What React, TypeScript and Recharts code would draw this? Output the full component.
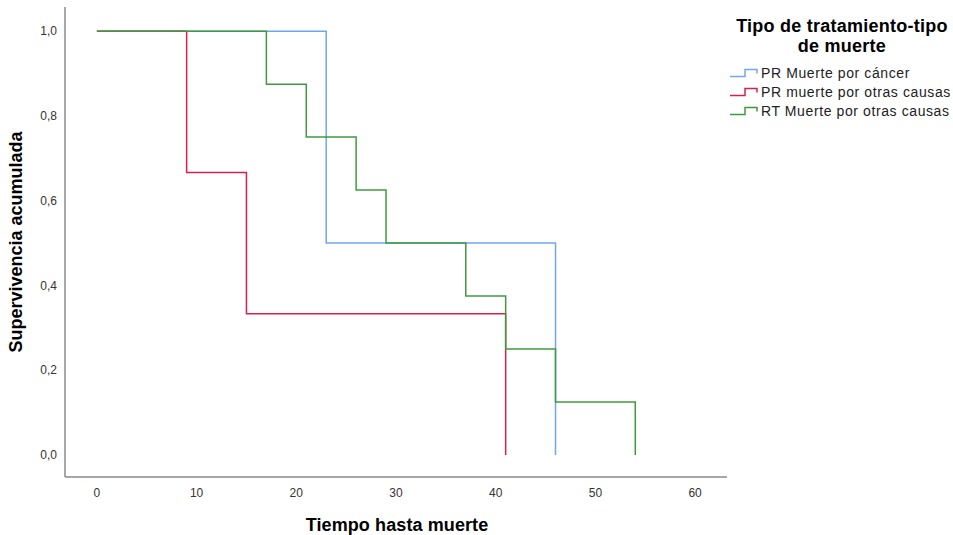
import { LineChart, Line, XAxis, YAxis } from "recharts";

// tiempos y supervivencia acumulada (Kaplan-Meier)
const seriesNames = [
  "PR Muerte por cáncer",
  "PR muerte por otras causas",
  "RT Muerte por otras causas",
];
const seriesColors = ["#6fa6ee", "#d6204e", "#3f9a3f"];

const prCancerTimes = [0, 23, 46];
const prCancerSurv = [1, 0.5, 0];

const prOtrasTimes = [0, 9, 15, 41];
const prOtrasSurv = [1, 0.6667, 0.3333, 0];

const rtOtrasTimes = [0, 17, 21, 26, 29, 37, 41, 46, 54];
const rtOtrasSurv = [1, 0.875, 0.75, 0.625, 0.5, 0.375, 0.25, 0.125, 0];

const xTicks = [0, 10, 20, 30, 40, 50, 60];
const yTicks = [0, 0.2, 0.4, 0.6, 0.8, 1.0];

const legendTitle = ["Tipo de tratamiento-tipo", "de muerte"];

const zip = (t: number[], s: number[]) => t.map((v, i) => ({ t: v, s: s[i] }));

const series = [
  zip(prCancerTimes, prCancerSurv),
  zip(prOtrasTimes, prOtrasSurv),
  zip(rtOtrasTimes, rtOtrasSurv),
];

const FONT = "'Liberation Sans', Arial, sans-serif";

const StepIcon = ({ color }: { color: string }) => (
  <svg width={29} height={10} style={{ display: "block" }}>
    <path d="M0,8.5 H15 V1.5 H27 V5.5" fill="none" stroke={color} strokeWidth={1.5} />
  </svg>
);

export default function App() {
  return (
    <div
      style={{
        position: "absolute",
        left: 0,
        top: 0,
        width: 953,
        height: 535,
        background: "#fff",
        fontFamily: FONT,
        overflow: "hidden",
      }}
    >
      <LineChart
        width={953}
        height={535}
        margin={{ top: 7, right: 226, left: 0, bottom: 28 }}
      >
        <XAxis
          dataKey="t"
          type="number"
          domain={[-3.2, 63.2]}
          allowDataOverflow
          ticks={xTicks}
          tickLine={false}
          tickMargin={5}
          stroke="#8a8a8a"
          strokeWidth={1.5}
          tick={{ fill: "#333", fontSize: 12, fontFamily: FONT }}
          height={30}
        />
        <YAxis
          type="number"
          domain={[-0.052, 1.057]}
          allowDataOverflow
          ticks={yTicks}
          tickLine={false}
          tickFormatter={(v: number) => v.toFixed(1).replace(".", ",")}
          stroke="#8a8a8a"
          strokeWidth={1.5}
          tick={{ fill: "#333", fontSize: 12, fontFamily: FONT }}
          width={65}
        />
        {series.map((d, i) => (
          <Line
            key={seriesNames[i]}
            data={d}
            dataKey="s"
            type="stepAfter"
            stroke={seriesColors[i]}
            strokeWidth={1.5}
            dot={false}
            activeDot={false}
            isAnimationActive={false}
          />
        ))}
      </LineChart>

      {/* títulos de los ejes */}
      <div
        style={{
          position: "absolute",
          left: 397,
          top: 525,
          transform: "translate(-50%, -50%)",
          fontSize: 18,
          fontWeight: "bold",
          letterSpacing: 0.1,
          whiteSpace: "nowrap",
          color: "#000",
        }}
      >
        Tiempo hasta muerte
      </div>
      <div
        style={{
          position: "absolute",
          left: 16,
          top: 242,
          transform: "translate(-50%, -50%) rotate(-90deg)",
          fontSize: 18,
          fontWeight: "bold",
          whiteSpace: "nowrap",
          color: "#000",
        }}
      >
        Supervivencia acumulada
      </div>

      {/* leyenda */}
      <div
        style={{
          position: "absolute",
          left: 842,
          top: 15.5,
          transform: "translateX(-50%)",
          fontSize: 18,
          fontWeight: "bold",
          letterSpacing: 0.25,
          textAlign: "center",
          whiteSpace: "nowrap",
          color: "#000",
        }}
      >
        {legendTitle.map((l) => (
          <div key={l} style={{ height: 20, lineHeight: "20px" }}>
            {l}
          </div>
        ))}
      </div>
      <div style={{ position: "absolute", left: 730, top: 63.5 }}>
        {seriesNames.map((n, i) => (
          <div
            key={n}
            style={{
              display: "flex",
              alignItems: "center",
              height: 19,
              fontSize: 14,
              letterSpacing: 0.6,
              color: "#222",
              whiteSpace: "nowrap",
            }}
          >
            <StepIcon color={seriesColors[i]} />
            <span style={{ marginLeft: 2 }}>{n}</span>
          </div>
        ))}
      </div>
    </div>
  );
}
